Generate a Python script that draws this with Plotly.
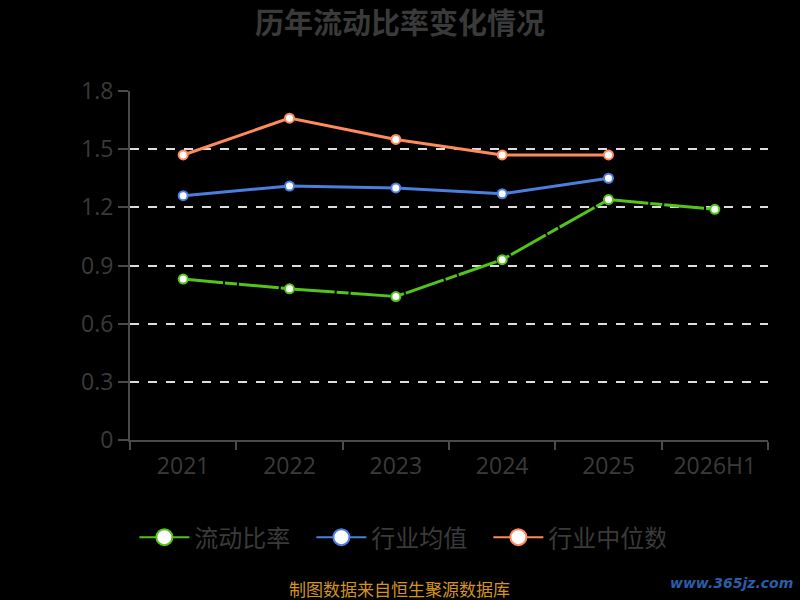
import plotly.graph_objects as go

# 数据
years = ["2021", "2022", "2023", "2024", "2025", "2026H1"]
current_ratio = [0.83, 0.78, 0.74, 0.93, 1.24, 1.19]
industry_avg = [1.26, 1.31, 1.30, 1.27, 1.35]
industry_median = [1.47, 1.66, 1.55, 1.47, 1.47]

text_color = "#3a3a3a"
axis_color = "#4a4a4a"
cjk_font = "Noto Sans CJK SC, sans-serif"
num_font = "Open Sans, Noto Sans, sans-serif"

series = [
    ("流动比率", years, current_ratio, "#52c41a", "40px,2px,12px,2px"),
    ("行业均值", years[:5], industry_avg, "#4a7fe0", "solid"),
    ("行业中位数", years[:5], industry_median, "#ff8a5c", "solid"),
]

fig = go.Figure()

for name, xs, ys, color, dash in series:
    # 实际折线
    fig.add_trace(go.Scatter(
        x=xs, y=ys,
        mode="lines+markers",
        name=name,
        showlegend=False,
        line=dict(color=color, width=3, dash=dash),
        marker=dict(size=9, color="white", line=dict(color=color, width=2)),
    ))
    # 图例用的大圆点
    fig.add_trace(go.Scatter(
        x=[None], y=[None],
        mode="lines+markers",
        name=name,
        line=dict(color=color, width=2),
        marker=dict(size=16, color="white", line=dict(color=color, width=2)),
    ))

fig.update_layout(
    width=800, height=600,
    paper_bgcolor="black", plot_bgcolor="black",
    font=dict(family=cjk_font, color=text_color),
    title=dict(
        text="<b>历年流动比率变化情况</b>",
        x=0.5, xanchor="center", y=0.96, yanchor="middle",
        font=dict(size=29, color=text_color),
    ),
    margin=dict(l=130, r=32, t=91, b=160),
    showlegend=True,
    legend=dict(
        orientation="h",
        x=0.423, xanchor="center",
        y=-0.215, yanchor="top",
        font=dict(size=24, color=text_color, family=cjk_font),
        itemsizing="trace",
        itemwidth=50,
        entrywidth=112,
        tracegroupgap=0,
    ),
)

fig.update_xaxes(
    type="category",
    range=[-0.5, 5.5],
    tickson="boundaries",
    showline=True, linecolor=axis_color, linewidth=2,
    ticks="outside", ticklen=8, tickcolor=axis_color, tickwidth=2,
    ticklabelstandoff=4,
    showgrid=False,
    tickfont=dict(size=23, color=text_color, family=num_font),
)
fig.update_yaxes(
    range=[0, 1.8],
    tickvals=[0, 0.3, 0.6, 0.9, 1.2, 1.5, 1.8],
    ticktext=["0", "0.3", "0.6", "0.9", "1.2", "1.5", "1.8"],
    showline=True, linecolor=axis_color, linewidth=2,
    ticks="outside", ticklen=10, tickcolor=axis_color, tickwidth=2,
    showgrid=True, gridcolor="#dddddd", griddash="dash", gridwidth=1.5,
    zeroline=False,
    tickfont=dict(size=23, color=text_color, family=num_font),
)

# 数据来源
fig.add_annotation(
    text="制图数据来自恒生聚源数据库",
    xref="paper", yref="paper", x=0.422, y=-0.425,
    xanchor="center", yanchor="middle", showarrow=False,
    font=dict(size=17, color="#d4941e", family=cjk_font),
)
# 水印
fig.add_annotation(
    text="<b><i>www.365jz.com</i></b>",
    xref="paper", yref="paper", x=1.042, y=-0.41,
    xanchor="right", yanchor="middle", showarrow=False,
    font=dict(size=14, color="#2a5ea8", family="DejaVu Sans"),
)

fig.write_html(
    "out.html",
    config={"displayModeBar": False},
    post_script="document.body.style.margin='0';",
)
